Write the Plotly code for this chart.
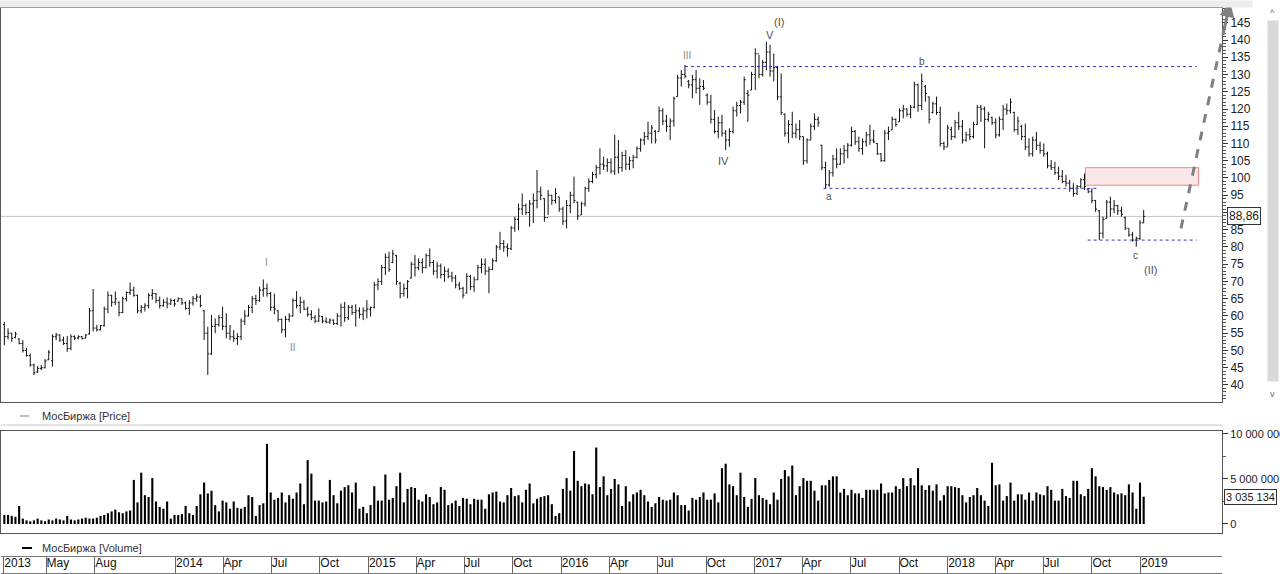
import plotly.graph_objects as go
import pandas as pd

# ---------------- data (weekly bars, MOEX) ----------------
dates = pd.date_range("2013-02-11", periods=309, freq="7D")

open_ = [
    57.5, 54.0, 55.0, 53.8, 53.3, 52.0, 50.0, 48.5, 45.8, 43.8,
    44.8, 45.0, 47.3, 47.0, 54.0, 54.5, 53.0, 52.0, 50.5, 54.0,
    53.6, 54.0, 53.6, 54.8, 61.5, 56.5, 56.0, 57.2, 62.0, 66.0,
    64.0, 64.0, 61.0, 65.0, 66.8, 67.5, 66.0, 61.5, 62.5, 63.0,
    66.0, 66.5, 64.5, 63.0, 64.0, 63.5, 64.5, 64.3, 65.0, 63.8,
    62.2, 63.8, 65.0, 65.5, 61.5, 55.0, 49.0, 57.0, 57.5, 59.5,
    57.0, 55.0, 54.0, 53.5, 54.0, 58.5, 60.0, 62.5, 65.0, 64.5,
    67.5, 68.0, 66.5, 62.5, 61.5, 59.0, 56.0, 59.0, 60.0, 64.5,
    63.0, 64.0, 62.0, 60.5, 59.5, 58.5, 59.8, 58.5, 58.2, 58.8,
    57.8, 60.0, 62.5, 59.5, 62.5, 61.0, 61.5, 60.5, 61.5, 62.0,
    62.5, 69.0, 70.0, 74.0, 77.0, 75.5, 77.5, 69.5, 66.5, 68.0,
    71.0, 75.0, 74.0, 75.5, 74.0, 77.5, 75.5, 73.0, 74.5, 72.0,
    73.0, 71.5, 71.0, 69.0, 68.0, 66.6, 71.5, 68.5, 70.5, 74.0,
    75.0, 73.0, 73.5, 76.0, 80.0, 81.0, 80.0, 79.5, 85.5, 88.0,
    91.0, 92.0, 90.0, 92.5, 93.5, 96.0, 94.0, 88.5, 95.0, 93.5,
    94.5, 91.0, 87.5, 92.0, 95.0, 93.0, 89.3, 92.5, 97.0, 99.0,
    101.0, 103.0, 104.0, 103.5, 104.5, 102.0, 106.0, 103.0, 106.5, 104.0,
    105.0, 106.0, 108.5, 111.0, 112.0, 113.0, 113.5, 113.5, 119.5, 116.5,
    115.0, 116.5, 123.6, 129.0, 130.0, 128.0, 127.0, 128.5, 126.0, 126.5,
    124.0, 122.0, 117.0, 113.5, 116.0, 113.0, 111.0, 113.5, 119.5, 121.0,
    122.0, 124.5, 125.5, 130.0, 136.0, 130.0, 133.5, 136.5, 131.0, 132.0,
    123.5, 118.5, 113.0, 115.5, 113.0, 114.0, 112.0, 105.0, 111.0, 115.0,
    117.0, 109.5, 103.0, 98.0, 101.5, 105.5, 104.0, 107.0, 108.0, 109.5,
    113.5, 110.5, 108.5, 110.5, 112.5, 111.0, 110.0, 107.0, 105.0, 113.0,
    113.9, 117.0, 116.3, 119.5, 120.0, 118.5, 120.5, 127.0, 121.0, 126.5,
    123.5, 119.0, 121.5, 119.0, 110.0, 109.0, 114.0, 112.0, 116.0, 115.0,
    111.0, 112.5, 112.0, 115.5, 120.5, 120.0, 117.0, 117.5, 116.0, 112.5,
    117.0, 120.0, 119.5, 119.0, 114.0, 115.0, 112.0, 109.0, 107.0, 111.0,
    109.5, 108.0, 107.0, 103.5, 103.0, 101.5, 100.5, 99.0, 98.5, 97.0,
    95.5, 97.5, 99.5, 96.8, 96.0, 93.5, 90.5, 84.0, 88.3, 93.0,
    91.0, 92.0, 90.5, 88.5, 85.4, 83.5, 82.0, 82.5, 87.0,
]
high = [
    58.3, 56.4, 55.1, 55.4, 53.5, 53.0, 50.8, 49.1, 46.2, 45.5,
    45.8, 47.5, 50.1, 54.7, 55.1, 54.7, 54.0, 54.2, 54.7, 54.4,
    54.4, 54.1, 54.7, 62.3, 67.8, 57.4, 57.4, 62.7, 67.1, 66.1,
    67.1, 64.2, 65.6, 67.1, 69.7, 68.5, 66.1, 63.2, 63.7, 66.6,
    67.8, 66.6, 65.6, 64.9, 65.4, 65.1, 64.9, 65.4, 65.1, 64.2,
    64.6, 65.8, 66.4, 66.1, 61.7, 56.9, 60.3, 59.3, 60.3, 62.7,
    60.8, 57.4, 55.9, 55.0, 59.3, 61.7, 63.2, 65.8, 66.1, 68.5,
    70.6, 69.4, 67.0, 66.5, 61.7, 59.3, 60.0, 60.8, 65.1, 67.2,
    65.6, 64.6, 62.7, 61.7, 60.3, 62.2, 60.0, 59.6, 59.3, 59.0,
    60.8, 63.6, 64.1, 63.2, 63.2, 63.4, 62.5, 62.5, 64.6, 62.7,
    69.9, 70.9, 74.8, 78.1, 78.6, 79.1, 77.7, 69.9, 69.4, 70.4,
    75.7, 77.7, 76.7, 76.7, 78.1, 79.6, 76.2, 75.7, 75.2, 74.3,
    73.8, 72.8, 71.9, 69.9, 68.5, 72.4, 71.9, 71.4, 74.8, 76.7,
    76.7, 74.3, 76.7, 80.6, 84.4, 82.0, 81.0, 86.1, 88.8, 92.6,
    95.5, 92.6, 93.6, 95.5, 102.3, 97.5, 94.1, 96.5, 95.1, 97.0,
    94.6, 91.7, 93.6, 96.0, 100.4, 93.1, 93.1, 97.5, 99.9, 101.8,
    103.8, 108.6, 106.2, 105.7, 105.7, 112.5, 111.0, 107.6, 108.1, 106.2,
    106.7, 109.1, 111.5, 113.4, 116.3, 115.4, 113.9, 120.7, 120.2, 118.3,
    117.3, 123.6, 129.9, 131.3, 132.8, 128.4, 129.9, 131.3, 128.9, 128.4,
    124.5, 124.1, 119.7, 117.8, 118.3, 113.9, 114.4, 120.7, 122.1, 122.6,
    129.4, 125.5, 130.8, 137.6, 135.7, 134.2, 139.5, 138.6, 136.1, 132.3,
    130.3, 118.7, 116.8, 119.2, 115.8, 116.8, 112.0, 111.5, 115.8, 118.7,
    117.8, 109.6, 104.7, 102.3, 106.7, 108.6, 108.6, 109.6, 110.1, 114.9,
    113.9, 112.0, 111.5, 113.4, 115.4, 113.9, 110.1, 107.2, 113.9, 114.9,
    117.8, 117.3, 120.2, 121.2, 120.2, 121.2, 127.9, 127.4, 130.3, 127.0,
    123.6, 122.1, 123.6, 120.7, 110.5, 115.4, 114.9, 116.8, 119.2, 116.8,
    113.4, 114.4, 116.3, 121.2, 121.2, 120.7, 119.2, 117.8, 117.3, 117.8,
    121.2, 121.6, 123.1, 119.2, 117.8, 115.4, 115.8, 111.5, 112.0, 113.4,
    110.5, 110.0, 107.6, 105.2, 104.7, 103.3, 102.3, 100.9, 99.4, 98.5,
    98.0, 99.9, 101.3, 97.0, 97.0, 93.6, 90.7, 88.8, 93.6, 94.6,
    93.6, 92.2, 91.7, 88.8, 85.4, 84.4, 83.0, 87.8, 90.7,
]
low = [
    51.5, 53.2, 52.5, 53.5, 51.8, 49.4, 48.2, 45.3, 42.9, 43.5,
    44.3, 44.8, 47.2, 45.3, 53.0, 52.5, 51.6, 49.6, 50.1, 53.0,
    53.2, 53.2, 53.5, 54.6, 55.5, 55.5, 55.8, 56.9, 60.8, 62.7,
    63.2, 59.9, 60.8, 64.2, 66.1, 65.6, 60.8, 60.8, 61.3, 62.2,
    64.7, 63.7, 62.2, 62.7, 62.2, 63.2, 62.7, 64.2, 63.2, 61.8,
    60.3, 63.0, 64.1, 62.5, 53.0, 42.9, 48.7, 55.0, 56.9, 55.9,
    53.5, 53.0, 52.5, 51.6, 53.0, 57.4, 59.8, 60.8, 63.2, 64.1,
    65.6, 65.6, 61.5, 60.5, 58.3, 55.0, 53.8, 58.3, 59.8, 62.2,
    60.8, 61.7, 59.8, 58.8, 57.9, 58.3, 57.9, 57.9, 57.7, 57.4,
    57.4, 56.9, 58.3, 58.8, 60.3, 56.9, 59.3, 58.8, 59.3, 59.8,
    62.2, 67.5, 69.0, 71.9, 72.8, 75.3, 69.0, 65.1, 65.6, 65.1,
    70.9, 71.4, 73.3, 72.4, 73.8, 74.3, 71.9, 70.9, 70.9, 69.9,
    70.9, 69.9, 68.0, 67.5, 65.1, 66.6, 67.5, 67.0, 70.4, 72.4,
    71.9, 66.6, 73.3, 75.7, 79.1, 78.6, 77.2, 79.1, 84.4, 84.9,
    89.3, 89.3, 85.9, 86.9, 91.2, 93.6, 87.3, 89.3, 92.2, 92.6,
    90.2, 86.4, 85.4, 89.8, 92.7, 87.8, 89.3, 91.7, 96.0, 98.5,
    99.9, 101.0, 102.3, 101.8, 101.3, 100.9, 101.3, 101.8, 102.3, 102.3,
    102.8, 105.7, 107.6, 109.6, 111.0, 110.0, 110.0, 113.5, 115.4, 113.4,
    111.0, 114.9, 123.6, 126.5, 128.9, 126.0, 123.1, 124.5, 121.2, 125.5,
    121.2, 115.8, 112.9, 111.5, 112.0, 108.1, 109.1, 112.9, 117.8, 118.7,
    121.2, 116.3, 125.5, 125.5, 128.9, 129.4, 131.3, 129.4, 128.0, 122.6,
    118.3, 112.0, 110.1, 111.5, 111.5, 111.0, 103.8, 104.2, 111.0, 113.9,
    114.9, 102.3, 97.0, 97.5, 100.4, 102.8, 103.8, 104.2, 105.7, 109.1,
    109.6, 107.6, 106.7, 109.1, 109.6, 110.1, 106.7, 104.7, 104.7, 111.0,
    113.9, 114.9, 116.3, 117.3, 117.8, 117.3, 120.2, 119.2, 119.7, 122.1,
    115.8, 118.7, 118.3, 109.1, 108.1, 109.1, 111.0, 111.5, 113.9, 110.0,
    110.5, 111.0, 111.5, 115.4, 116.3, 108.6, 116.3, 115.4, 111.5, 112.0,
    113.9, 118.3, 118.7, 113.4, 112.5, 111.0, 108.1, 106.2, 106.2, 108.1,
    107.1, 106.2, 102.8, 102.3, 100.9, 99.4, 98.5, 97.5, 96.0, 94.6,
    95.1, 97.0, 96.5, 95.6, 92.7, 90.2, 82.0, 82.5, 88.3, 88.8,
    89.8, 89.3, 88.8, 84.9, 83.0, 81.5, 80.1, 82.0, 86.9,
]
close = [
    54.0, 55.0, 53.5, 54.8, 52.0, 50.0, 48.5, 45.8, 43.5, 44.8,
    45.0, 47.0, 49.5, 54.0, 54.5, 53.0, 52.0, 50.5, 54.0, 53.6,
    54.0, 53.5, 54.5, 61.5, 56.5, 56.0, 57.2, 62.0, 66.0, 64.0,
    65.0, 61.0, 65.0, 66.8, 67.5, 66.0, 61.5, 62.5, 63.0, 66.0,
    66.5, 64.5, 63.0, 64.0, 63.5, 64.5, 63.5, 65.0, 63.8, 62.2,
    63.8, 65.0, 65.5, 63.0, 55.0, 49.0, 57.0, 57.5, 59.5, 57.0,
    55.0, 54.0, 53.5, 54.0, 58.5, 60.0, 62.5, 65.0, 64.5, 67.5,
    68.0, 66.5, 62.5, 62.0, 59.0, 56.0, 59.0, 60.0, 64.5, 63.0,
    64.0, 62.0, 60.5, 59.5, 58.5, 60.0, 58.5, 58.2, 58.8, 57.8,
    60.0, 62.5, 59.5, 62.5, 61.0, 61.5, 60.5, 61.5, 62.0, 62.5,
    69.0, 70.0, 74.0, 77.0, 73.5, 78.0, 70.0, 66.5, 68.0, 70.0,
    75.0, 74.0, 75.5, 74.0, 77.5, 75.5, 73.0, 74.5, 72.0, 73.0,
    71.5, 71.0, 69.0, 68.0, 66.0, 71.5, 68.5, 70.5, 74.0, 75.0,
    73.0, 73.5, 76.0, 80.0, 81.0, 80.0, 79.5, 85.5, 88.0, 91.0,
    92.0, 90.0, 92.5, 93.5, 96.0, 95.0, 88.5, 95.0, 93.5, 95.5,
    91.0, 87.5, 92.0, 95.0, 93.5, 89.0, 92.5, 97.0, 99.0, 101.0,
    103.0, 104.0, 103.5, 104.5, 102.0, 106.0, 103.0, 106.5, 104.0, 105.0,
    106.0, 108.5, 111.0, 112.0, 113.0, 114.5, 111.0, 119.5, 116.5, 115.0,
    116.5, 123.0, 129.0, 130.0, 129.5, 127.0, 128.5, 126.0, 126.5, 126.0,
    122.0, 117.0, 113.5, 116.0, 113.0, 111.0, 113.5, 119.5, 121.0, 122.0,
    128.5, 124.0, 130.0, 136.0, 130.0, 133.5, 136.5, 131.0, 132.0, 123.5,
    119.0, 113.0, 115.5, 113.0, 114.0, 112.0, 105.0, 111.0, 115.0, 117.0,
    116.0, 103.0, 98.0, 101.5, 105.5, 104.0, 107.0, 108.0, 109.5, 113.5,
    110.5, 108.5, 110.5, 112.5, 111.0, 110.5, 107.0, 105.0, 113.0, 113.5,
    117.0, 115.5, 119.5, 120.0, 118.5, 120.5, 127.0, 121.0, 128.0, 124.5,
    117.0, 121.5, 119.0, 110.0, 109.0, 114.5, 112.0, 116.0, 115.0, 111.0,
    112.5, 112.0, 115.5, 120.5, 120.0, 117.0, 118.5, 116.0, 112.5, 117.0,
    120.0, 119.5, 122.0, 114.0, 116.5, 112.0, 109.0, 107.0, 111.0, 109.5,
    108.0, 107.0, 103.5, 103.0, 101.5, 100.5, 99.0, 98.5, 97.0, 95.5,
    97.5, 99.5, 97.5, 96.0, 93.5, 91.0, 84.0, 88.0, 93.0, 91.0,
    92.0, 90.5, 89.5, 85.5, 83.5, 82.0, 82.5, 87.0, 88.86,
]
# weekly volume, millions of shares
volume_m = [
    1.0, 1.0, 0.9, 0.8, 2.0, 0.6, 0.4, 0.3, 0.4, 0.6,
    0.4, 0.3, 0.5, 0.4, 0.6, 0.5, 0.4, 0.9, 0.5, 0.4,
    0.5, 0.6, 0.7, 0.6, 0.6, 0.7, 0.9, 1.0, 1.2, 1.4,
    1.6, 1.3, 1.2, 1.4, 1.5, 4.9, 2.4, 5.7, 3.2, 3.0,
    5.1, 2.5, 1.9, 1.7, 2.5, 0.6, 1.0, 1.0, 1.1, 2.0,
    1.2, 1.0, 2.0, 3.3, 4.6, 3.4, 3.7, 2.1, 1.4, 2.6,
    2.4, 1.7, 2.5, 1.8, 1.7, 1.9, 3.2, 3.0, 0.9, 2.1,
    2.3, 8.9, 3.5, 2.7, 2.9, 3.5, 2.4, 3.2, 2.8, 3.5,
    4.5, 2.2, 7.1, 5.6, 2.6, 2.6, 2.4, 2.5, 4.9, 3.2,
    2.3, 3.7, 4.1, 4.3, 3.5, 4.6, 1.7, 1.9, 1.2, 2.1,
    4.2, 2.6, 2.6, 5.5, 2.7, 2.9, 4.2, 5.7, 2.4, 3.9,
    4.1, 4.0, 2.7, 2.5, 3.3, 3.0, 2.2, 2.4, 4.1, 3.8,
    2.1, 2.3, 2.6, 2.0, 2.9, 2.8, 2.2, 2.8, 2.7, 2.7,
    1.7, 3.3, 3.5, 3.6, 2.5, 2.4, 3.2, 4.0, 3.1, 3.2,
    2.4, 3.8, 4.5, 2.3, 2.8, 3.0, 3.1, 3.2, 2.2, 0.9,
    1.2, 3.9, 5.1, 3.7, 8.1, 4.8, 4.2, 4.5, 4.4, 3.3,
    8.5, 4.1, 5.3, 3.2, 3.9, 5.0, 4.4, 2.0, 4.2, 2.5,
    3.3, 3.5, 3.8, 3.2, 2.5, 1.9, 2.3, 3.0, 2.7, 2.6,
    2.7, 3.5, 3.2, 2.1, 2.1, 1.5, 2.9, 2.7, 3.0, 3.5,
    2.7, 2.7, 3.4, 2.4, 6.2, 6.7, 4.4, 4.2, 3.2, 5.7,
    3.0, 1.9, 2.8, 5.1, 3.2, 2.9, 2.7, 2.2, 3.5, 2.7,
    5.0, 6.0, 5.3, 6.5, 3.2, 4.2, 5.1, 4.8, 4.8, 3.7,
    2.6, 4.3, 4.3, 4.9, 5.3, 5.3, 3.5, 3.9, 3.2, 3.8,
    3.4, 3.4, 2.9, 3.8, 3.8, 3.8, 3.8, 4.5, 3.4, 3.5,
    3.5, 4.2, 3.9, 5.1, 4.2, 5.1, 4.3, 6.2, 4.3, 3.8,
    4.3, 3.7, 4.4, 2.6, 3.2, 4.2, 4.2, 4.1, 4.0, 3.2,
    2.4, 3.0, 3.2, 4.0, 3.2, 2.6, 2.0, 6.8, 4.3, 4.4,
    2.6, 3.1, 4.6, 2.6, 3.3, 3.3, 2.7, 3.5, 2.6, 3.5,
    3.3, 3.2, 4.2, 3.8, 2.6, 2.6, 3.9, 3.1, 2.9, 4.8,
    4.8, 3.3, 3.1, 3.9, 6.2, 5.3, 4.2, 4.1, 3.8, 4.1,
    3.5, 3.3, 3.4, 3.2, 4.4, 3.5, 1.7, 4.6, 3.035134,
]
volume = [v * 1e6 for v in volume_m]

last_price = 88.86
last_price_text = "88,86"
last_volume = 3035134
last_volume_text = "3 035 134"

price_ticks = list(range(40, 150, 5))
vol_tickvals = [0, 5e6, 10e6]
vol_ticktext = ["0", "5 000 000", "10 000 000"]

strip_dates = ["2013-02-10", "2013-05-01", "2013-08-01",
               "2014-01-01", "2014-04-01", "2014-07-01", "2014-10-01",
               "2015-01-01", "2015-04-01", "2015-07-01", "2015-10-01",
               "2016-01-01", "2016-04-01", "2016-07-01", "2016-10-01",
               "2017-01-01", "2017-04-01", "2017-07-01", "2017-10-01",
               "2018-01-01", "2018-04-01", "2018-07-01", "2018-10-01",
               "2019-01-01"]
strip_labels = ["2013", "May", "Aug",
                "2014", "Apr", "Jul", "Oct",
                "2015", "Apr", "Jul", "Oct",
                "2016", "Apr", "Jul", "Oct",
                "2017", "Apr", "Jul", "Oct",
                "2018", "Apr", "Jul", "Oct",
                "2019"]

# Elliott wave labels
wave_text = ["I", "II", "III", "IV", "V", "(I)", "a", "b", "c", "(II)"]
wave_x = ["2014-06-22", "2014-08-12", "2016-08-25", "2016-11-03", "2017-01-29",
          "2017-02-15", "2017-05-21", "2017-11-13", "2018-12-23", "2019-01-20"]
wave_y = [75.4, 51.0, 135.6, 104.9, 141.4, 145.2, 94.5, 133.9, 77.4, 73.3]

# support / resistance levels
levels = [  # (start, end, price)
    ("2016-08-22", "2019-04-17", 132.3),
    ("2017-05-11", "2018-10-15", 97.0),
    ("2018-09-23", "2019-04-17", 82.0),
]
zone = ("2018-09-19", "2019-04-21", 97.9, 103.0)

# ---------------- figure ----------------
XR = ["2013-02-04 16:00", "2019-06-04 05:00"]
FONT = "Arial, Liberation Sans, sans-serif"

fig = go.Figure()
fig.add_trace(go.Ohlc(
    x=dates, open=open_, high=high, low=low, close=close,
    increasing=dict(line=dict(color="#111111", width=1)),
    decreasing=dict(line=dict(color="#111111", width=1)),
    tickwidth=0.4, xaxis="x", yaxis="y", showlegend=False, hoverinfo="skip"))
fig.add_trace(go.Bar(
    x=dates, y=volume, width=4 * 86400000,
    marker=dict(color="#000000", line=dict(width=0)),
    xaxis="x2", yaxis="y2", showlegend=False, hoverinfo="skip"))
fig.add_trace(go.Scatter(
    x=[dates[0]], y=[0.5], mode="markers", marker=dict(opacity=0),
    xaxis="x3", yaxis="y3", showlegend=False, hoverinfo="skip"))

frame = dict(showline=True, mirror=True, linecolor="#555555", linewidth=1,
             showgrid=False, zeroline=False, automargin=False)

fig.update_layout(
    width=1280, height=574,
    margin=dict(l=1, r=58, t=8, b=1, autoexpand=False),
    paper_bgcolor="white", plot_bgcolor="white",
    font=dict(family=FONT, size=12, color="#222222"),
    showlegend=False,
    xaxis=dict(domain=[0, 1], anchor="y", range=XR, showticklabels=False,
               ticks="", rangeslider=dict(visible=False), **frame),
    yaxis=dict(domain=[0.3027, 1], anchor="x", side="right",
               range=[35.07, 149.28], tickvals=price_ticks,
               ticks="outside", ticklen=5, tickcolor="#333333",
               minor=dict(dtick=1, tick0=0, ticks="outside", ticklen=3,
                          tickcolor="#555555"),
               tickfont=dict(size=12, color="#222222"), **frame),
    xaxis2=dict(domain=[0, 1], anchor="y2", matches="x", showticklabels=False,
                ticks="", **frame),
    yaxis2=dict(domain=[0.0708, 0.2513], anchor="x2", side="right",
                range=[-1.0e6, 10.33e6], tickvals=vol_tickvals,
                ticktext=vol_ticktext, ticks="outside", ticklen=5,
                tickcolor="#333333",
                minor=dict(dtick=2.5e6, tick0=0, ticks="outside", ticklen=3,
                           tickcolor="#555555"),
                tickfont=dict(size=11, color="#222222"), **frame),
    xaxis3=dict(domain=[0, 1], anchor="y3", matches="x",
                tickvals=strip_dates, ticktext=strip_labels,
                ticklabelposition="inside right", ticks="",
                showgrid=True, gridcolor="#666666", gridwidth=1,
                showline=True, mirror=True, linecolor="#777777",
                zeroline=False, automargin=False,
                tickfont=dict(size=12, color="#111111")),
    yaxis3=dict(domain=[0, 0.0283], anchor="x3", range=[0, 1],
                showticklabels=False, showgrid=False, zeroline=False,
                showline=False, ticks="", automargin=False),
)

shapes = []
# last price line
shapes.append(dict(type="line", xref="x domain", x0=0, x1=1, yref="y",
                   y0=last_price, y1=last_price,
                   line=dict(color="#c4c4c4", width=1), layer="below"))
# dashed blue levels
for s, e, p in levels:
    shapes.append(dict(type="line", xref="x", yref="y", x0=s, x1=e, y0=p, y1=p,
                       line=dict(color="#3535c8", width=1, dash="3px,3px")))
# pink target zone
shapes.append(dict(type="rect", xref="x", yref="y", x0=zone[0], x1=zone[1],
                   y0=zone[2], y1=zone[3], fillcolor="rgba(245,205,205,0.45)",
                   line=dict(color="#ee8888", width=1)))
# forecast arrow (dashed)
shapes.append(dict(type="line", xref="paper", yref="paper",
                   x0=0.9664, y0=0.610, x1=1.0035, y1=0.980,
                   line=dict(color="#808080", width=3, dash="dash")))
# panel separator under price legend
shapes.append(dict(type="line", xref="paper", yref="paper",
                   x0=0, x1=1, y0=0.2619, y1=0.2619,
                   line=dict(color="#c8c8c8", width=1)))
# legend glyphs
shapes.append(dict(type="line", xref="paper", yref="paper",
                   x0=0.0156, x1=0.0229, y0=0.2779, y1=0.2779,
                   line=dict(color="#777777", width=1)))
shapes.append(dict(type="line", xref="paper", yref="paper",
                   x0=0.0172, x1=0.0254, y0=0.0443, y1=0.0443,
                   line=dict(color="#000000", width=2)))
fig.update_layout(shapes=shapes)

ann = []
for t, x, y in zip(wave_text, wave_x, wave_y):
    light = t in ("I", "II", "III")
    ann.append(dict(x=x, y=y, xref="x", yref="y", text=t, showarrow=False,
                    font=dict(size=10 if t in ("I", "II", "III", "a", "b", "c") else 11,
                              color="#8a8a8a" if light else "#505050",
                              family=FONT)))
# arrow head of forecast
ann.append(dict(x=1.0066, y=1.0106, xref="paper", yref="paper", text="",
                showarrow=True, ax=-6, ay=28, axref="pixel", ayref="pixel",
                arrowhead=2, arrowsize=1, arrowwidth=3, arrowcolor="#808080"))
# last value boxes
ann.append(dict(x=1.004, y=last_price, xref="paper", yref="y",
                text=last_price_text, showarrow=False, xanchor="left",
                yanchor="middle",
                bgcolor="white", bordercolor="#333333", borderwidth=1,
                borderpad=1, font=dict(size=12, color="#222222")))
ann.append(dict(x=1.002, y=last_volume, xref="paper", yref="y2",
                text=last_volume_text, showarrow=False, xanchor="left",
                yanchor="middle",
                bgcolor="white", bordercolor="#333333", borderwidth=1,
                borderpad=1, font=dict(size=11, color="#222222")))
# legends
ann.append(dict(x=0.0319, y=0.2779, xref="paper", yref="paper",
                text="МосБиржа [Price]", showarrow=False, xanchor="left",
                yanchor="middle", font=dict(size=11, color="#333333")))
ann.append(dict(x=0.0319, y=0.0443, xref="paper", yref="paper",
                text="МосБиржа [Volume]", showarrow=False, xanchor="left",
                yanchor="middle", font=dict(size=11, color="#333333")))
# window chrome: top strip and scrollbar (drawn as boxes)
ann.append(dict(x=0.5, y=1.0142, xref="paper", yref="paper", text="\u00a0",
                showarrow=False, xanchor="center", yanchor="top",
                width=1280, height=6, bgcolor="#ececec", borderpad=0,
                font=dict(size=4)))
ann.append(dict(x=1.0369, y=0.9788, xref="paper", yref="paper", text="\u00a0",
                showarrow=False, xanchor="left", yanchor="top",
                width=10, height=360, bgcolor="#d9d9d9", borderpad=0,
                font=dict(size=4)))
ann.append(dict(x=1.0414, y=0.992, xref="paper", yref="paper", text="^",
                showarrow=False, xanchor="center", yanchor="middle",
                font=dict(size=9, color="#666666")))
ann.append(dict(x=1.0414, y=0.316, xref="paper", yref="paper", text="v",
                showarrow=False, xanchor="center", yanchor="middle",
                font=dict(size=9, color="#666666")))
fig.update_layout(annotations=ann)

fig.write_html("out.html",
               config={"displayModeBar": False},
               post_script="document.body.style.margin='0';"
                           "document.body.style.overflow='hidden';")
